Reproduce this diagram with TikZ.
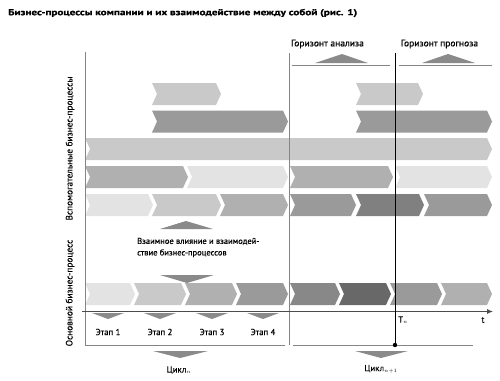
\documentclass[tikz,border=0pt]{standalone}
\usepackage{fontspec}
\setmainfont{PT Sans}
\newfontfamily\lblfont[FakeBold=0.4]{PT Sans}
\newfontfamily\titlefont[BoldFeatures={FakeBold=1}]{PT Sans}
\usetikzlibrary{shapes.symbols,arrows.meta}

\definecolor{gA}{HTML}{E3E3E3}
\definecolor{gB}{HTML}{C9C9C9}
\definecolor{gC}{HTML}{B0B0B0}
\definecolor{gD}{HTML}{9A9A9A}
\definecolor{gE}{HTML}{888888}
\definecolor{gF}{HTML}{808080}
\definecolor{gG}{HTML}{686868}
\definecolor{trigray}{HTML}{8A8A8A}
\definecolor{framegray}{HTML}{858585}

\begin{document}
\begin{tikzpicture}[x=1pt,y=-1pt,
    chev/.style={signal,signal from=west,signal to=east,signal pointer angle=131,
      minimum height=22,inner sep=0,outer sep=0,draw=none},
    tri/.style={fill=trigray},
    frame/.style={draw=framegray,line width=0.8},
    lbl/.style={font=\lblfont\fontsize{8.8}{11}\selectfont,inner sep=0,text=black}]
  \useasboundingbox (0,0) rectangle (500,380);

  % title
  \node[anchor=west,inner sep=0,font=\titlefont\bfseries\fontsize{8.6}{11}\selectfont] (title) at (8,13)
    {\resizebox{349pt}{\height}{Бизнес-процессы компании и их взаимодействие между собой (рис. 1)}};

  % supporting processes
  \foreach \l/\r/\c [count=\i] in {152/221/gB,356/423/gB}
    \node[chev,fill=\c,minimum width=\r-\l] (a\i) at ({(\l+\r)/2},94) {};
  \foreach \l/\r/\c [count=\i] in {152/288/gD,356/492/gD}
    \node[chev,fill=\c,minimum width=\r-\l] (b\i) at ({(\l+\r)/2},121.5) {};
  \node[chev,fill=gB,minimum width=407] (c1) at (288.5,149) {};
  \foreach \l/\r/\c [count=\i] in {85/188/gC,187/288/gA,290/393/gC,395/492/gA}
    \node[chev,fill=\c,minimum width=\r-\l] (d\i) at ({(\l+\r)/2},177) {};
  \foreach \l/\r/\c [count=\i] in {85/153/gA,152/221/gB,220/288/gC,290/356/gD,356/424/gF,424/492/gD}
    \node[chev,fill=\c,minimum width=\r-\l] (e\i) at ({(\l+\r)/2},205) {};

  % main process
  \foreach \l/\r/\c [count=\i] in {85/135/gA,134/186/gB,185/237/gC,236/288/gD,290/340/gE,339/391/gG,390/442/gD,441/492/gC}
    \node[chev,fill=\c,minimum width=\r-\l] (m\i) at ({(\l+\r)/2},294) {};

  % interaction
  \fill[tri] (160,229) -- (213,229) -- (186,221) -- cycle;
  \node[lbl,anchor=west,align=left,font=\lblfont\fontsize{8.5}{11.5}\selectfont] (mutual) at (137,247.5)
    {Взаимное влияние и взаимодей-\\ствие бизнес-процессов};
  \fill[tri] (160,275) -- (214,275) -- (187,283) -- cycle;

  % frame and axis
  \coordinate (top) at (85,52);
  \coordinate (corner) at (85,345);
  \coordinate (bend) at (285,345);
  \draw[frame] (top) -- (corner) -- (bend);
  \draw[frame] (293,345) -- (473,345);
  \draw[draw=framegray,line width=0.7] (289,53) -- (289,345);
  \coordinate (o) at (82,311.5);
  \coordinate (tend) at (493,311.5);
  \draw[draw=black!70,line width=0.8,-{Latex[length=6,width=5]}] (o) -- (tend);
  \coordinate (tntop) at (395,53);
  \coordinate (tnbot) at (395,345);
  \draw[line width=1] (tntop) -- (tnbot);
  \fill (tnbot) circle (2.2);

  % horizons
  \node[lbl,font=\lblfont\fontsize{9.5}{11}\selectfont] (hanal) at (327.5,44) {Горизонт анализа};
  \node[lbl,font=\lblfont\fontsize{9.5}{11}\selectfont] (hprog) at (439.5,44) {Горизонт прогноза};
  \draw[frame] (292,65) -- (390,65);
  \draw[frame] (399,65) -- (492,65);
  \fill[tri] (315,63) -- (368,63) -- (342,54) -- cycle;
  \fill[tri] (422,63) -- (475,63) -- (448,54) -- cycle;

  % stages
  \foreach \x [count=\i] in {108,160,212,263} {
    \fill[tri] (\x-16,313) -- (\x+16,313) -- (\x,319) -- cycle;
    \node[lbl] (st\i) at (\x,332) {Этап \i};
  }

  % cycles
  \fill[tri] (153,351) -- (208,351) -- (180,358) -- cycle;
  \node[lbl] (cyc1) at (179,370) {Цикл$_{\scriptscriptstyle n}$};
  \fill[tri] (355,351) -- (408,351) -- (381,358) -- cycle;
  \node[lbl] (cyc2) at (381,369) {Цикл$_{\scriptscriptstyle n+1}$};

  % time labels
  \node[lbl,anchor=west] (tn) at (398,320) {T$_{\scriptscriptstyle n}$};
  \node[lbl] (tlab) at (483,320) {t};

  % side labels
  \node[lbl,rotate=90,font=\lblfont\fontsize{9.3}{11}\selectfont] (side) at (70,148.5) {Вспомогательные бизнес-процессы};
  \node[lbl,rotate=90,font=\lblfont\fontsize{9.3}{11}\selectfont] (main) at (70,293) {Основной бизнес-процесс};
\end{tikzpicture}
\end{document}
